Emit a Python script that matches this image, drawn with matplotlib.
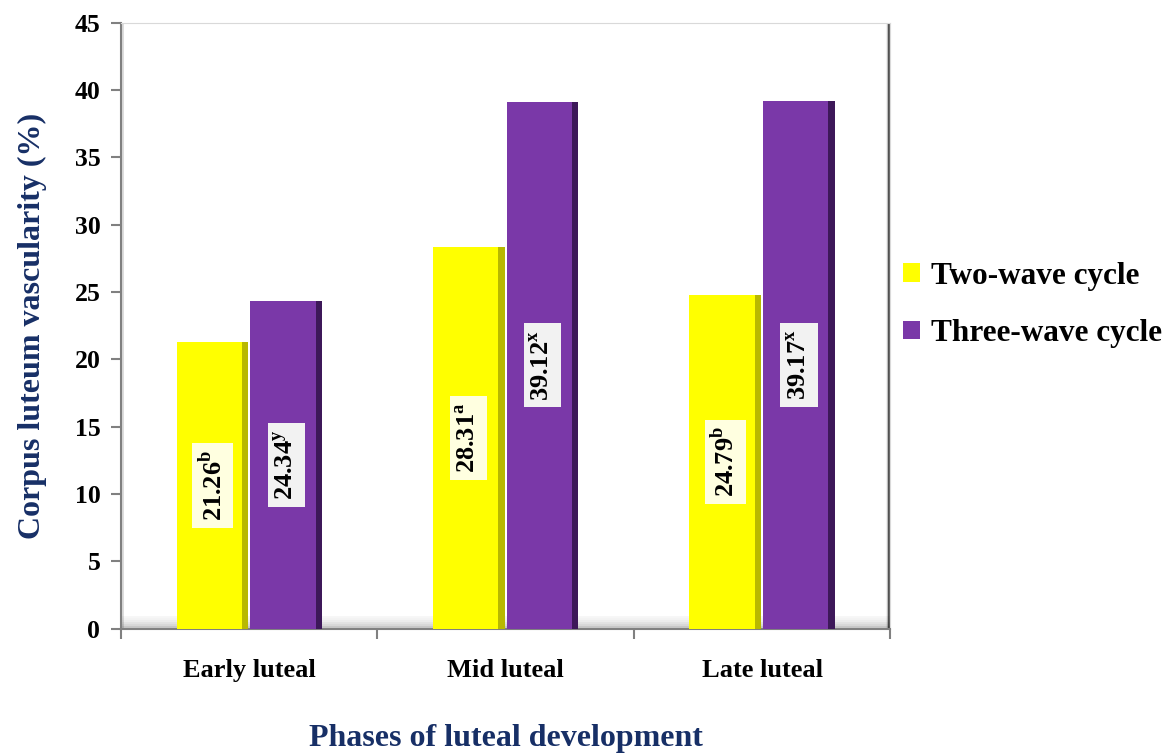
import numpy as np
import matplotlib
matplotlib.use("Agg")
from matplotlib import pyplot as plt

plt.rcParams['font.family'] = ['Liberation Serif', 'DejaVu Serif']
plt.rcParams['mathtext.fontset'] = 'custom'
plt.rcParams['mathtext.rm'] = 'Liberation Serif'
plt.rcParams['mathtext.bf'] = 'Liberation Serif:bold'

fases = ["Early luteal", "Mid luteal", "Late luteal"]
dos_ondas = [21.26, 28.31, 24.79]
tres_ondas = [24.34, 39.12, 39.17]
letras_dos = ["b", "a", "b"]
letras_tres = ["y", "x", "x"]
series = ["Two-wave cycle", "Three-wave cycle"]

amarillo = "#FFFF00"
morado = "#7A38A8"
azul = "#172F66"

fig = plt.figure(figsize=(11.76, 7.54), dpi=100)
ax = fig.add_axes([0.103, 0.166, 0.654, 0.804])

x = np.arange(len(fases))
w = 0.28
b1 = ax.bar(x - w/2 - 0.004, dos_ondas, width=w, color=amarillo, label=series[0], zorder=3)
b2 = ax.bar(x + w/2 + 0.004, tres_ondas, width=w, color=morado, label=series[1], zorder=3)
# sombra lateral de las barras (efecto bisel)
s = 0.025
ax.bar(x - 0.004 - s/2, dos_ondas, width=s, color="#9A9A00", alpha=0.7, zorder=4)
ax.bar(x + w + 0.004 - s/2, tres_ondas, width=s, color="#2E1045", alpha=0.8, zorder=4)

# etiquetas dentro de las barras
for i in range(len(fases)):
    ax.text(x[i] - w/2 - 0.004, dos_ondas[i]/2, "%.2f$^{\\mathbf{%s}}$" % (dos_ondas[i], letras_dos[i]),
            rotation=90, ha="center", va="center", fontsize=19, fontweight="bold",
            bbox=dict(boxstyle="square,pad=0.25", fc="#FFFFE0", ec="none"), zorder=5)
    ax.text(x[i] + w/2 + 0.004, tres_ondas[i]/2, "%.2f$^{\\mathbf{%s}}$" % (tres_ondas[i], letras_tres[i]),
            rotation=90, ha="center", va="center", fontsize=19, fontweight="bold",
            bbox=dict(boxstyle="square,pad=0.25", fc="#F2F2F2", ec="none"), zorder=5)

ax.set_xlim(-0.5, 2.5)
ax.set_ylim(0, 45)
ax.set_yticks(np.arange(0, 46, 5))
ax.set_xticks(x)
ax.set_xticklabels(fases, fontsize=19, fontweight="bold")
ax.set_xticks([-0.5, 0.5, 1.5, 2.5], minor=True)
ax.tick_params(axis="x", which="major", length=0, pad=22)
ax.tick_params(axis="x", which="minor", length=7, color="#808080", width=1.5)
ax.tick_params(axis="y", length=7, color="#808080", width=1.5, labelsize=18.5, pad=8)
for t in ax.get_yticklabels():
    t.set_fontweight("bold")

for lado in ["left", "bottom"]:
    ax.spines[lado].set_color("#808080")
    ax.spines[lado].set_linewidth(1.5)
ax.spines["top"].set_color("#D9D9D9")
ax.spines["right"].set_color("#D9D9D9")

# sombra de la pared y del suelo
for k, a in enumerate([0.05, 0.08, 0.12, 0.18, 0.25, 0.35]):
    ax.axvline(2.5 - 0.012 + k*0.0018, color="k", alpha=a, lw=1.5, zorder=1)
    ax.axhline(0.9 - k*0.15, color="k", alpha=a*0.6, lw=1.5, zorder=1)
ax.axvline(-0.5 + 0.004, color="k", alpha=0.15, lw=2, zorder=1)

ax.set_ylabel("Corpus luteum vascularity (%)", fontsize=23, fontweight="bold", color=azul, labelpad=20)
ax.set_xlabel("Phases of luteal development", fontsize=23, fontweight="bold", color=azul, labelpad=30)

fig.legend(handles=[b1, b2], labels=series, loc="upper left", bbox_to_anchor=(0.744, 0.69),
           frameon=False, prop=dict(size=22.5, weight="bold"), handlelength=0.55, handleheight=0.55,
           handletextpad=0.35, labelspacing=0.9)

plt.savefig("out.png", dpi=100)
